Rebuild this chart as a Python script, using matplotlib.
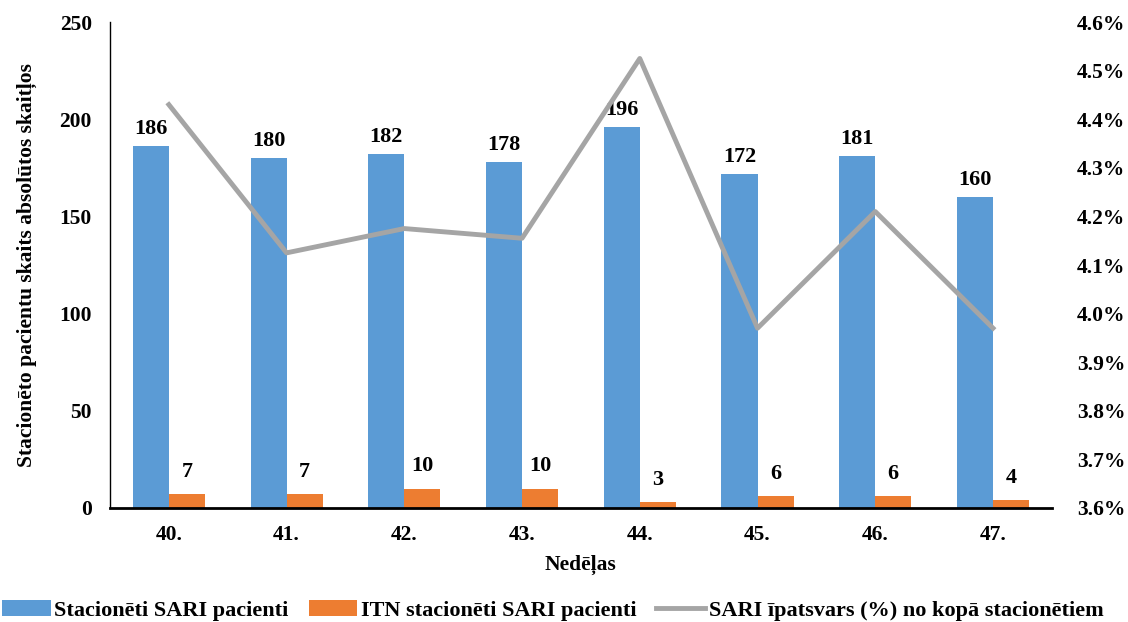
import matplotlib
matplotlib.use("Agg")
import matplotlib.pyplot as plt
import numpy as np

weeks = ["40.", "41.", "42.", "43.", "44.", "45.", "46.", "47."]
sari = [186, 180, 182, 178, 196, 172, 181, 160]
itn = [7, 7, 10, 10, 3, 6, 6, 4]
share = [4.43, 4.125, 4.175, 4.155, 4.525, 3.97, 4.21, 3.97]

plt.rcParams['font.family'] = ['Liberation Serif', 'DejaVu Serif']
plt.rcParams['font.weight'] = 'bold'

fig = plt.figure(figsize=(11.28, 6.22), dpi=100)
ax = fig.add_axes([0.0975, 0.1833, 0.835, 0.7813])
x = np.arange(len(weeks))
w = 0.306
blue = '#5B9BD5'
orange = '#ED7D31'
gray = '#A5A5A5'
b1 = ax.bar(x - w/2, sari, w, color=blue, label='Stacionēti SARI pacienti')
b2 = ax.bar(x + w/2, itn, w, color=orange, label='ITN stacionēti SARI pacienti')
ax.bar_label(b1, padding=5, fontsize=16, fontweight='bold')
ax.bar_label(b2, padding=9, fontsize=16, fontweight='bold')
ax.set_ylim(0, 250)
ax.set_xlim(-0.5, len(weeks) - 0.5)
ax.set_yticks(range(0, 251, 50))
ax.set_xticks(x)
ax.set_xticklabels(weeks)
ax.tick_params(length=0, labelsize=15.5, pad=12)
ax.tick_params(axis='y', pad=13)
for s in ['top', 'right']:
    ax.spines[s].set_visible(False)
ax.spines['left'].set_linewidth(1.0)
ax.spines['bottom'].set_linewidth(2.0)
ax.set_ylabel('Stacionēto pacientu skaits absolūtos skaitļos', fontsize=15.5, fontweight='bold', labelpad=16)
ax.set_xlabel('Nedēļas', fontsize=15.5, fontweight='bold', labelpad=7)

ax2 = ax.twinx()
l, = ax2.plot(x, share, color=gray, linewidth=3.5, label='SARI īpatsvars (%) no kopā stacionētiem')
ax2.set_ylim(3.6, 4.6)
ax2.set_yticks(np.arange(3.6, 4.61, 0.1))
ax2.set_yticklabels([f"{v:.1f}%" for v in np.arange(3.6, 4.61, 0.1)])
ax2.tick_params(length=0, labelsize=15.5, pad=18)
for s in ['top', 'right', 'left', 'bottom']:
    ax2.spines[s].set_visible(False)

fig.legend(handles=[b1, b2, l], loc='lower center', bbox_to_anchor=(0.49, -0.03), ncol=3,
           frameon=False, handlelength=2.2, handletextpad=0.15, columnspacing=0.9,
           prop={'weight': 'bold', 'size': 16})
fig.savefig('out.png', dpi=100)
